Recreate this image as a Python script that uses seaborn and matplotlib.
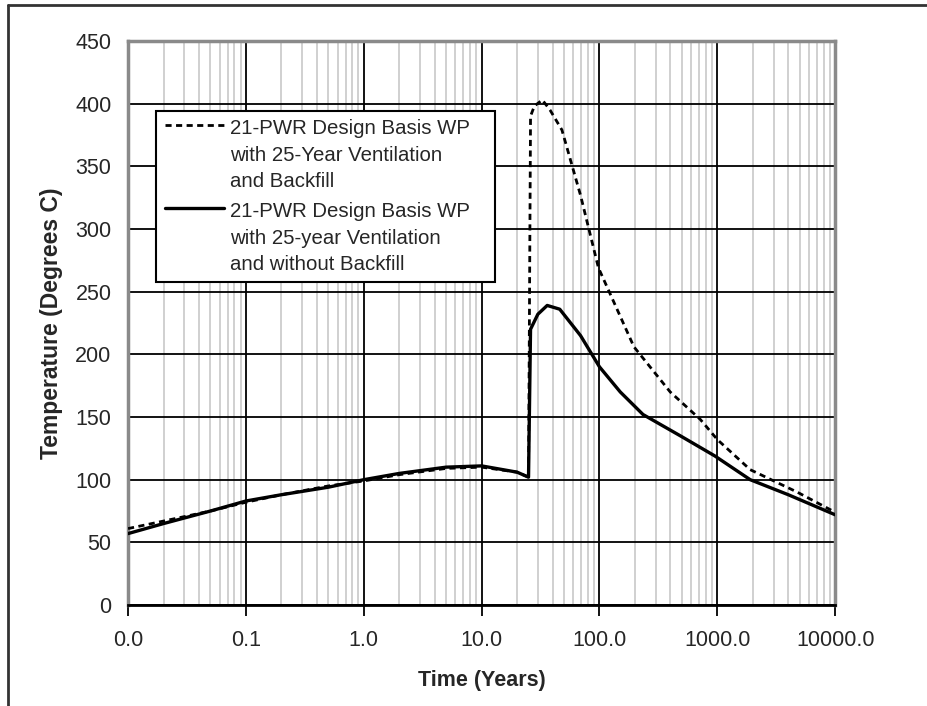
import numpy as np
import pandas as pd
import seaborn as sns
import matplotlib.pyplot as plt
from matplotlib.lines import Line2D
from matplotlib.legend_handler import HandlerLine2D
from matplotlib.ticker import LogLocator, NullFormatter

# time in years and temperatures (deg C)
t_backfill = [0.01, 0.02, 0.05, 0.1, 0.2, 0.5, 1, 2, 5, 10, 20, 25, 26, 28, 32.7,
              38, 48, 69, 98, 196, 398, 718, 1000, 1900, 4780, 10000]
temp_backfill = [61, 67, 75, 82, 88, 95, 99, 104, 109, 110, 106, 102, 390, 398, 403,
                 395, 379, 327, 269, 206, 170, 148, 132, 108, 90, 74]

t_no_backfill = [0.01, 0.02, 0.05, 0.1, 0.2, 0.5, 1, 2, 5, 10, 20, 25, 26, 30, 36,
                 46, 69, 100, 150, 234, 485, 950, 1900, 4000, 10000]
temp_no_backfill = [57, 65, 75, 83, 88, 94, 100, 105, 110, 111, 106, 102, 220, 232, 239,
                    236, 215, 190, 170, 152, 135, 119, 100, 88, 72]

# trailing spaces only widen the legend box on the right, as in the original
label_backfill = "21-PWR Design Basis WP   \nwith 25-Year Ventilation\nand Backfill"
label_no_backfill = "21-PWR Design Basis WP   \nwith 25-year Ventilation\nand without Backfill"

x_ticks = [0.01, 0.1, 1, 10, 100, 1000, 10000]
x_tick_labels = ["0.0", "0.1", "1.0", "10.0", "100.0", "1000.0", "10000.0"]
y_ticks = list(range(0, 451, 50))

LEG_SIZE = 14.7
LEG_SPACING = 1.5


class FirstLineHandler(HandlerLine2D):
    # put the legend sample next to the first line of a multi-line label
    def create_artists(self, legend, orig_handle, xdescent, ydescent, width, height,
                       fontsize, trans):
        arts = super().create_artists(legend, orig_handle, xdescent, ydescent, width,
                                      height, fontsize, trans)
        for a in arts:
            a.set_ydata(np.asarray(a.get_ydata()) + fontsize * 1.5)
        return arts


sns.set_style("white")
plt.rcParams['font.family'] = ['Liberation Sans', 'DejaVu Sans']

fig = plt.figure(figsize=(9.28, 7.06), dpi=100)
ax = fig.add_axes([0.138, 0.143, 0.762, 0.799])

df1 = pd.DataFrame({"t": t_backfill, "temp": temp_backfill})
df2 = pd.DataFrame({"t": t_no_backfill, "temp": temp_no_backfill})

sns.lineplot(data=df1, x="t", y="temp", ax=ax, color="black", linewidth=2,
             linestyle=(0, (2.2, 1.6)), estimator=None, label=label_backfill, zorder=4)
sns.lineplot(data=df2, x="t", y="temp", ax=ax, color="black", linewidth=2.4,
             estimator=None, label=label_no_backfill, zorder=4)

ax.set_xscale("log")
ax.set_xlim(0.01, 10000)
ax.set_ylim(0, 450)
ax.set_xticks(x_ticks)
ax.set_xticklabels(x_tick_labels)
ax.xaxis.set_minor_locator(LogLocator(base=10, subs=np.arange(2, 10), numticks=20))
ax.xaxis.set_minor_formatter(NullFormatter())
ax.set_yticks(y_ticks)

ax.grid(which="major", axis="both", color="black", linewidth=1.3)
ax.grid(which="minor", axis="x", color="#c8c8c8", linewidth=1.2)
ax.set_axisbelow(True)

ax.tick_params(axis="x", which="major", direction="out", length=8, width=1.3,
               color="black", pad=10, labelsize=15.5, bottom=True)
ax.tick_params(axis="x", which="minor", length=0)
ax.tick_params(axis="y", length=0, pad=12, labelsize=15.5)

for side in ["left", "top", "right"]:
    ax.spines[side].set_color("#8a8a8a")
    ax.spines[side].set_linewidth(2.5)
ax.spines["bottom"].set_color("black")
ax.spines["bottom"].set_linewidth(2)

ax.set_xlabel("Time (Years)", fontsize=15.5, fontweight="bold", labelpad=14)
ax.set_ylabel("Temperature (Degrees C)", fontsize=16.5, fontweight="bold", labelpad=9)

handles, labels = ax.get_legend_handles_labels()
leg = ax.legend(handles, labels, loc="upper left", bbox_to_anchor=(0.04, 0.876),
                fontsize=LEG_SIZE, frameon=True, fancybox=False, edgecolor="black",
                framealpha=1, handlelength=2.9, handletextpad=0.3, borderpad=0.4,
                labelspacing=0.55, borderaxespad=0,
                handler_map={Line2D: FirstLineHandler()})
leg.get_frame().set_linewidth(1.5)
for txt in leg.get_texts():
    txt.set_linespacing(LEG_SPACING)

# frame around the whole picture (only left and top visible in the original)
fig.add_artist(Line2D([8 / 928, 8 / 928], [0, 1 - 5 / 706], color="#333333", linewidth=2))
fig.add_artist(Line2D([8 / 928, 1], [1 - 5 / 706, 1 - 5 / 706], color="#333333", linewidth=2))

fig.savefig("out.png", dpi=100)
